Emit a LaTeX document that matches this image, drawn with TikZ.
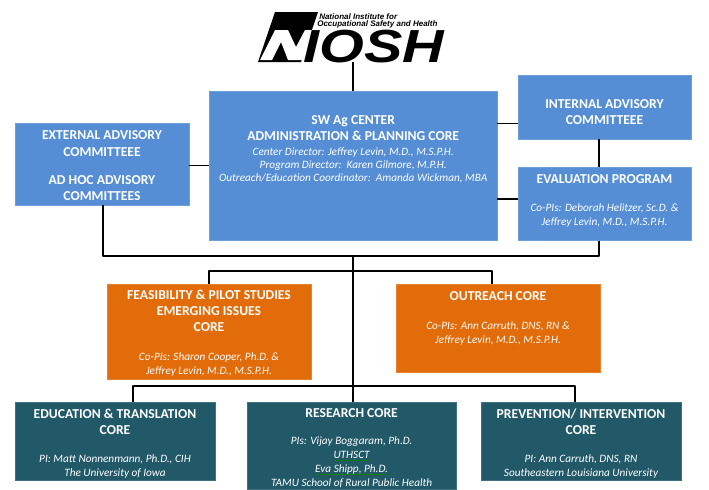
\documentclass[tikz,border=0pt]{standalone}
\usepackage{fontspec}
\usepackage{xcolor}
\setmainfont{Carlito}
\newfontfamily\logofont{Liberation Sans}
\usetikzlibrary{positioning}
\definecolor{boxblue}{HTML}{558ED5}
\definecolor{boxorange}{HTML}{E36C0A}
\definecolor{boxteal}{HTML}{215968}
\newcommand{\headline}[1]{{\fontsize{9.7}{11.4}\selectfont\bfseries #1}}
\newcommand{\subline}[1]{{\fontsize{8}{9.6}\selectfont\itshape #1}}
\newsavebox{\markbox}
\newcommand{\marked}[1]{\sbox{\markbox}{#1}\rlap{#1}\textcolor{green!50!black}{\rule[-1.3pt]{\wd\markbox}{0.35pt}}}
\tikzset{
  corebox/.style = {anchor = north west, inner sep = 0pt, align = center, text = white, font = \fontsize{9}{11.4}\selectfont},
  bluebox/.style = {corebox, fill = boxblue, draw = boxblue!85!white, line width = 0.3pt},
  orangebox/.style = {corebox, fill = boxorange, draw = boxorange!85!white, line width = 0.3pt},
  tealbox/.style = {corebox, fill = boxteal, draw = boxteal!85!white, line width = 0.3pt},
  link/.style = {draw = black, line width = 1pt, line join = round}
}

\begin{document}
\begin{tikzpicture}[x = 0.25mm, y = -0.25mm]
\useasboundingbox (0, 0) rectangle (709, 489);

% logo
\fill (275, 12) -- (318, 12) -- (301, 62) -- (258, 62) -- cycle;
\fill [white] (260, 60) -- (272, 60) -- (281, 42) -- (288, 60) -- (302, 60) -- (318, 30) -- (305, 30) -- (296, 47) -- (288, 30) -- (275, 30) -- cycle;
\node [anchor = base west, inner sep = 0pt, text height = 21pt, xscale = 1.24, transform shape, font = \logofont\bfseries\itshape\fontsize{33}{33}\selectfont] (niosh) at (303, 62) {IOSH};
\node [anchor = north west, inner sep = 0pt, align = left, font = \logofont\bfseries\itshape\fontsize{5.7}{5.6}\selectfont] (institute) at (317, 13) {\hspace{1.4pt}National Institute for\\Occupational Safety and Health};
\coordinate (logo) at (353, 62);

% boxes
\node [bluebox, minimum width = 43.4mm, minimum height = 20.5mm] (external) at (15, 123) {\mbox{}\\[-2.6pt]\headline{EXTERNAL ADVISORY}\\\headline{COMMITTEEE}\\[9pt]\headline{AD HOC ADVISORY}\\\headline{COMMITTEES}};
\node [bluebox, minimum width = 72mm, minimum height = 37.25mm] (center) at (209, 91) {\headline{SW Ag CENTER}\\\headline{ADMINISTRATION \& PLANNING CORE}\\[-0.5pt]\subline{Center Director: Jeffrey Levin, M.D., M.S.P.H.}\\[-2pt]\subline{Program Director:\ \ Karen Gilmore, M.P.H.}\\[-2pt]\subline{Outreach/Education Coordinator:\ \ Amanda Wickman, MBA}\\[13pt]\mbox{}};
\node [bluebox, minimum width = 43.4mm, minimum height = 16mm] (internal) at (517.5, 75) {\mbox{}\\[1.7pt]\headline{INTERNAL ADVISORY}\\\headline{COMMITTEEE}};
\node [bluebox, minimum width = 43.4mm, minimum height = 18.4mm] (evaluation) at (517.5, 166.5) {\headline{EVALUATION PROGRAM}\\[8.5pt]\subline{Co-PIs: Deborah Helitzer, Sc.D. \&}\\[-1.5pt]\subline{Jeffrey Levin, M.D., M.S.P.H.}\\[-6.1pt]\mbox{}};
\node [orangebox, minimum width = 50.9mm, minimum height = 23.75mm] (feasibility) at (107, 284) {\mbox{}\\[-2.6pt]\headline{FEASIBILITY \& PILOT STUDIES}\\\headline{EMERGING ISSUES}\\\headline{CORE}\\[9pt]\subline{Co-PIs: Sharon Cooper, Ph.D. \&}\\[-1.5pt]\subline{Jeffrey Levin, M.D., M.S.P.H.}};
\node [orangebox, minimum width = 50.9mm, minimum height = 22mm] (outreach) at (396, 284) {\headline{OUTREACH CORE}\\[9pt]\subline{Co-PIs: Ann Carruth, DNS, RN \&}\\[-1.5pt]\subline{Jeffrey Levin, M.D., M.S.P.H.}\\[3.6pt]\mbox{}};
\node [tealbox, minimum width = 49.9mm, minimum height = 19.5mm] (education) at (15, 402) {\mbox{}\\[-1.8pt]\headline{EDUCATION \& TRANSLATION}\\\headline{CORE}\\[8.5pt]\subline{PI: Matt Nonnenmann, Ph.D., CIH}\\[-1.5pt]\subline{The University of Iowa}};
\node [tealbox, minimum width = 52.2mm, minimum height = 21.75mm] (research) at (247, 402) {\mbox{}\\[-1.2pt]\headline{RESEARCH CORE}\\[8pt]\subline{PIs: Vijay Boggaram, Ph.D.}\\[-1.5pt]\subline{\marked{UTHSCT}}\\[-1.5pt]\subline{\marked{Eva Shipp, Ph.D.}}\\[-1.5pt]\subline{TAMU School of Rural Public Health}};
\node [tealbox, minimum width = 49.9mm, minimum height = 19.5mm] (prevention) at (481, 402) {\mbox{}\\[-1.8pt]\headline{PREVENTION/ INTERVENTION}\\\headline{CORE}\\[8.5pt]\subline{PI: Ann Carruth, DNS, RN}\\[-1.5pt]\subline{Southeastern Louisiana University}};

% junctions
\coordinate (busleft) at (103, 256);
\coordinate (busmid) at (353, 256);
\coordinate (busright) at (599, 256);
\coordinate (upperleft) at (209, 271);
\coordinate (uppermid) at (353, 271);
\coordinate (upperright) at (492, 271);
\coordinate (lowerleft) at (133, 386);
\coordinate (lowermid) at (353, 386);
\coordinate (lowerright) at (575, 386);

% connectors
\draw [link] (logo) -- (logo |- center.north);
\draw [link] (external.east |- 0, 165.5) -- (center.west |- 0, 165.5);
\draw [link] (center.east |- 0, 123.5) -- (internal.west |- 0, 123.5);
\draw [link] (center.east |- 0, 199) -- (evaluation.west |- 0, 199);
\draw [link] (busright |- internal.south) -- (busright |- evaluation.north);
\draw [link] (busleft |- external.south) -- (busleft) -- (busright) -- (busright |- evaluation.south);
\draw [link] (busmid) -- (lowermid |- research.north);
\draw [link] (upperleft |- feasibility.north) -- (upperleft) -- (upperright) -- (upperright |- outreach.north);
\draw [link] (lowerleft |- education.north) -- (lowerleft) -- (lowerright) -- (lowerright |- prevention.north);
\end{tikzpicture}
\end{document}
